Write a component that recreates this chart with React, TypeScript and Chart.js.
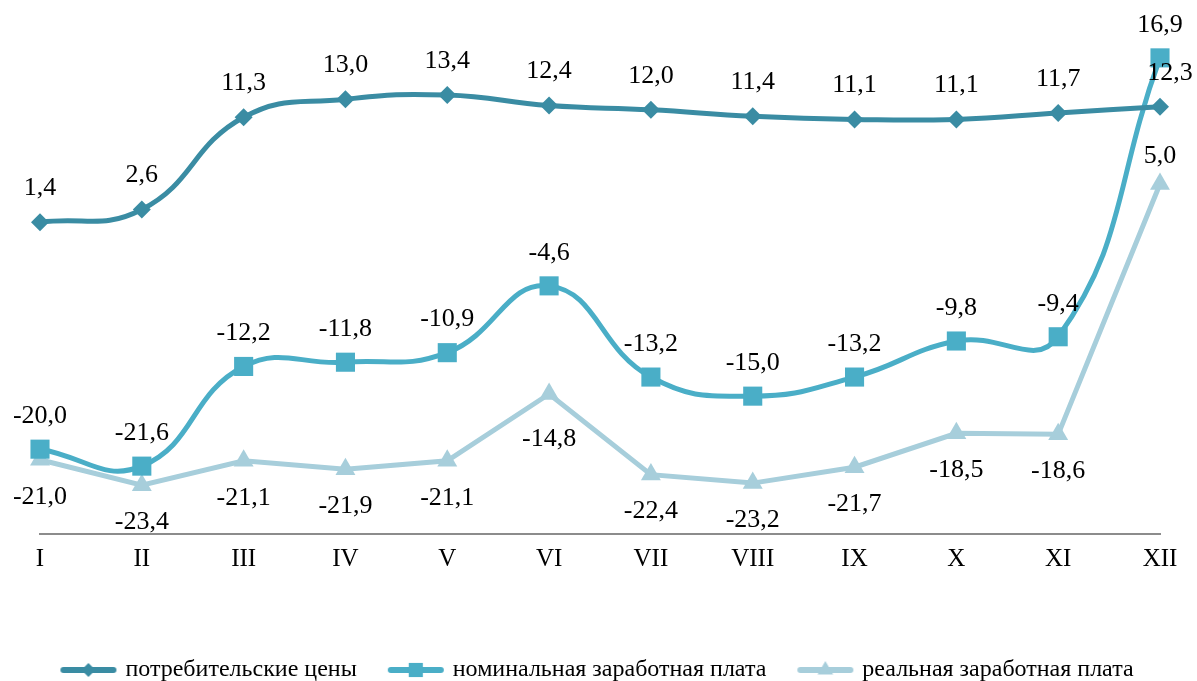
import React, { useEffect, useRef } from "react";
import { Chart, registerables } from "chart.js";

Chart.register(...registerables);

const months = ["I", "II", "III", "IV", "V", "VI", "VII", "VIII", "IX", "X", "XI", "XII"];
const consumerPrices = [1.4, 2.6, 11.3, 13.0, 13.4, 12.4, 12.0, 11.4, 11.1, 11.1, 11.7, 12.3];
const nominalWages = [-20.0, -21.6, -12.2, -11.8, -10.9, -4.6, -13.2, -15.0, -13.2, -9.8, -9.4, 16.9];
const realWages = [-21.0, -23.4, -21.1, -21.9, -21.1, -14.8, -22.4, -23.2, -21.7, -18.5, -18.6, 5.0];
const seriesNames = ["потребительские цены", "номинальная заработная плата", "реальная заработная плата"];

const COLORS = ["#3a8ca3", "#4aaec7", "#a7cedb"];
const STYLES = ["rectRot", "rect", "triangle"];
const FONT = "'Liberation Serif', 'Times New Roman', serif";

const fmt = (v: number) => v.toFixed(1).replace(".", ",");

function drawMarker(ctx: CanvasRenderingContext2D, style: string, x: number, y: number, r: number) {
  ctx.beginPath();
  if (style === "rectRot") {
    ctx.moveTo(x, y - r);
    ctx.lineTo(x + r, y);
    ctx.lineTo(x, y + r);
    ctx.lineTo(x - r, y);
  } else if (style === "rect") {
    const s = r * Math.SQRT1_2;
    ctx.rect(x - s, y - s, 2 * s, 2 * s);
  } else {
    const h = r * 1.5;
    const w = r * Math.sqrt(3);
    ctx.moveTo(x, y - r);
    ctx.lineTo(x + w / 2, y - r + h);
    ctx.lineTo(x - w / 2, y - r + h);
  }
  ctx.closePath();
  ctx.fill();
}

function legendIcon(color: string, style: string, r: number) {
  const c = document.createElement("canvas");
  c.width = 58;
  c.height = 26;
  const ctx = c.getContext("2d")!;
  ctx.strokeStyle = color;
  ctx.fillStyle = color;
  ctx.lineWidth = 6;
  ctx.lineCap = "round";
  ctx.beginPath();
  ctx.moveTo(4, 13);
  ctx.lineTo(54, 13);
  ctx.stroke();
  drawMarker(ctx, style, 29, 13, r);
  return c;
}

// label placement per series: [dx, dy] (negative dy = above)
function labelOffset(ds: number, i: number): [number, number] {
  if (ds === 0) return i === 11 ? [10, -33] : [0, -34];
  if (ds === 1) return [0, -33];
  if (i === 11) return [0, -28];
  if (i === 5) return [0, 45];
  return [0, 37];
}

const dataLabels = {
  id: "dataLabels",
  afterDatasetsDraw(chart: any) {
    const ctx = chart.ctx;
    ctx.save();
    ctx.font = `26px ${FONT}`;
    ctx.fillStyle = "#000";
    ctx.textAlign = "center";
    ctx.textBaseline = "middle";
    chart.data.datasets.forEach((ds: any, d: number) => {
      const meta = chart.getDatasetMeta(d);
      meta.data.forEach((pt: any, i: number) => {
        const [dx, dy] = labelOffset(d, i);
        ctx.fillText(fmt(ds.data[i]), pt.x + dx, pt.y + dy);
      });
    });
    ctx.restore();
  },
};

const hiddenSide = (width: number, position: "left" | "right") => ({
  display: true,
  position,
  min: -28,
  max: 20,
  grid: { display: false, drawTicks: false },
  border: { display: false },
  ticks: { display: false },
  afterFit: (scale: any) => {
    scale.width = width;
  },
});

export default function App() {
  const ref = useRef<HTMLCanvasElement>(null);
  useEffect(() => {
    if (!ref.current) return;
    const series = [consumerPrices, nominalWages, realWages];
    const radii = [9, 13.5, 11.5];
    const icons = [legendIcon(COLORS[0], STYLES[0], 7), legendIcon(COLORS[1], STYLES[1], 10), legendIcon(COLORS[2], STYLES[2], 9)];
    const chart = new Chart(ref.current, {
      type: "line",
      data: {
        labels: months,
        datasets: series.map((s, k) => ({
          label: seriesNames[k],
          data: s,
          borderColor: COLORS[k],
          backgroundColor: COLORS[k],
          borderWidth: 5,
          tension: k === 2 ? 0 : 0.45,
          pointStyle: STYLES[k] as any,
          pointRadius: radii[k],
          pointHoverRadius: radii[k],
          pointBorderWidth: 0,
          pointBackgroundColor: COLORS[k],
          clip: false as any,
          yAxisID: "y",
        })),
      },
      options: {
        responsive: false,
        animation: false,
        layout: { padding: { left: 0, right: 0, top: 25, bottom: -11 } },
        scales: {
          x: {
            offset: false,
            grid: { display: false, drawTicks: false },
            border: { display: true, color: "#8c8c8c", width: 2 },
            ticks: { color: "#000", font: { family: FONT, size: 25 }, padding: 10, autoSkip: false, maxRotation: 0 },
            afterFit: (scale: any) => {
              scale.height += 40;
            },
          },
          y: hiddenSide(40, "left") as any,
          y2: hiddenSide(37, "right") as any,
        },
        plugins: {
          tooltip: { enabled: false },
          legend: {
            position: "bottom",
            labels: {
              usePointStyle: true,
              pointStyleWidth: 50,
              padding: 34,
              color: "#000",
              font: { family: FONT, size: 24 },
              generateLabels: () =>
                seriesNames.map((n, k) => ({
                  text: n,
                  pointStyle: icons[k] as any,
                  fillStyle: COLORS[k],
                  strokeStyle: COLORS[k],
                  lineWidth: 0,
                  hidden: false,
                  datasetIndex: k,
                })),
            },
          },
        },
      },
      plugins: [dataLabels],
    });
    return () => chart.destroy();
  }, []);
  return (
    <div style={{ position: "absolute", left: 0, top: 0, width: 1197, height: 681, background: "#fff" }}>
      <canvas ref={ref} width={1197} height={681} style={{ display: "block" }} />
    </div>
  );
}
